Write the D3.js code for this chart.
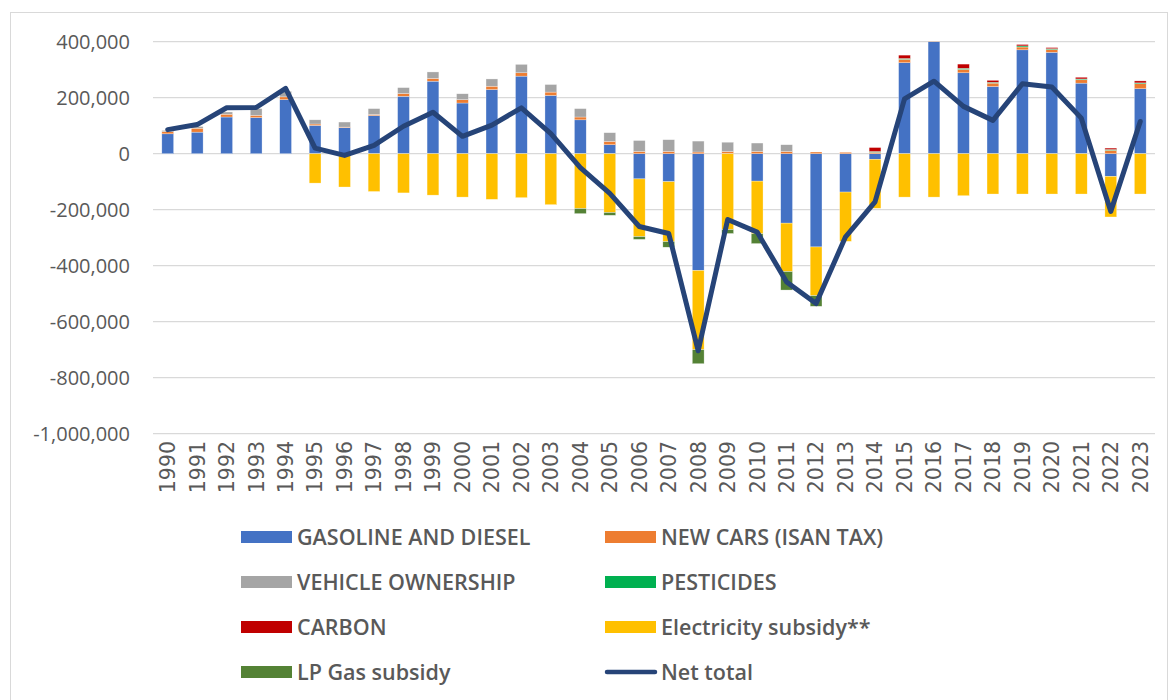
<!DOCTYPE html>
<html>
<head>
<meta charset="utf-8">
<script src="https://cdn.jsdelivr.net/npm/d3@7/dist/d3.min.js"></script>
<style>
  body { margin: 0; background: #fff; }
  .ylab { font-family: "Open Sans", sans-serif; font-size: 20px; fill: #595959; }
  .xlab { font-family: "DejaVu Sans", sans-serif; font-size: 20.5px; fill: #595959; }
  .leg { font-family: "Open Sans", sans-serif; font-size: 21.5px; font-weight: 600; fill: #595959; }
</style>
</head>
<body>
<svg width="1171" height="700"></svg>
<script>

// values
var years = d3.range(1990, 2024);

var gasoline = [71000, 77000, 131000, 129000, 193000, 101000, 93000, 136000, 205000, 259000,
  181000, 229000, 277000, 208000, 121000, 32000, -90000, -100000, -417000, 0,
  -98000, -248000, -333000, -137000, -20000, 325000, 400000, 289000, 240000, 371000,
  362000, 252000, -81000, 232000];

var newCars = [8000, 14000, 10000, 8000, 10000, 5000, 2000, 4000, 10000, 10000,
  12000, 12000, 12000, 12000, 10000, 12000, 8000, 8000, 6000, 8000,
  8000, 8000, 6000, 5000, 5000, 12000, 3000, 12000, 12000, 10000,
  10000, 12000, 12000, 18000];

var vehicleOwnership = [4000, 6000, 8000, 24000, 20000, 15000, 18000, 21000, 21000, 23000,
  21000, 26000, 30000, 27000, 30000, 31000, 39000, 42000, 39000, 33000,
  30000, 24000, 0, 0, 0, 0, 0, 0, 0, 0,
  0, 0, 0, 0];

var pesticides = [0, 0, 0, 0, 0, 0, 0, 0, 0, 0,
  0, 0, 0, 0, 0, 0, 0, 0, 0, 0,
  0, 0, 0, 0, 3000, 3000, 0, 4000, 3000, 4000,
  3000, 3000, 3000, 3000];

var carbon = [0, 0, 0, 0, 0, 0, 0, 0, 0, 0,
  0, 0, 0, 0, 0, 0, 0, 0, 0, 0,
  0, 0, 0, 0, 14000, 12000, 0, 15000, 7000, 5000,
  4000, 6000, 5000, 7000];

var electricity = [0, 0, 0, 0, 0, -105000, -119000, -135000, -140000, -148000,
  -155000, -163000, -157000, -182000, -196000, -210000, -206000, -214000, -283000, -271000,
  -188000, -173000, -174000, -176000, -175000, -155000, -155000, -150000, -144000, -144000,
  -144000, -144000, -145000, -144000];

var lpGas = [0, 0, 0, 0, 0, 0, 0, 0, 0, 0,
  0, 0, 0, 0, -18000, -10000, -10000, -20000, -50000, -14000,
  -35000, -66000, -38000, 0, 0, 0, 0, 0, 0, 0,
  0, 0, 0, 0];

var netTotal = [86000, 104000, 164000, 165000, 233000, 20000, -6000, 30000, 98000, 148000,
  62000, 102000, 164000, 72000, -50000, -142000, -260000, -285000, -704000, -235000,
  -280000, -458000, -535000, -297000, -172000, 196000, 259000, 169000, 119000, 250000,
  238000, 127000, -206000, 115000];

var yTicks = [400000, 200000, 0, -200000, -400000, -600000, -800000, -1000000];

var keys = ["GASOLINE AND DIESEL", "NEW CARS (ISAN TAX)", "VEHICLE OWNERSHIP", "PESTICIDES",
  "CARBON", "Electricity subsidy**", "LP Gas subsidy"];
var series = [gasoline, newCars, vehicleOwnership, pesticides, carbon, electricity, lpGas];
var colors = ["#4472C4", "#ED7D31", "#A5A5A5", "#00B050", "#C00000", "#FFC000", "#548235"];

var rows = years.map(function(yr, i) {
  var r = {year: yr};
  keys.forEach(function(k, j) { r[k] = series[j][i]; });
  return r;
});

var svg = d3.select("svg"),
    plot = {left: 153, right: 1155, top: 41.7, bottom: 433.7};

// outer frame of the chart
svg.append("rect")
    .attr("x", 10.5).attr("y", 12.5)
    .attr("width", 1157).attr("height", 700)
    .attr("fill", "none")
    .attr("stroke", "#D9D9D9");

var x = d3.scaleBand()
    .domain(years)
    .range([plot.left, plot.right])
    .paddingInner(0.6)
    .paddingOuter(0.3);

var y = d3.scaleLinear()
    .domain([-1000000, 400000])
    .range([plot.bottom, plot.top]);

var z = d3.scaleOrdinal().domain(keys).range(colors);

svg.append("defs").append("clipPath")
    .attr("id", "clip")
  .append("rect")
    .attr("x", plot.left)
    .attr("y", plot.top)
    .attr("width", plot.right - plot.left)
    .attr("height", plot.bottom - plot.top);

// gridlines
svg.append("g")
    .selectAll("line")
    .data(yTicks)
    .enter().append("line")
    .attr("x1", plot.left)
    .attr("x2", plot.right)
    .attr("y1", function(d) { return y(d); })
    .attr("y2", function(d) { return y(d); })
    .attr("stroke", "#D9D9D9")
    .attr("stroke-width", 1.3);

// y labels (plain hyphen for negatives, like Excel)
var fmt = d3.format(",");
var yAxis = d3.axisLeft(y)
    .tickValues(yTicks)
    .tickSize(0)
    .tickPadding(0)
    .tickFormat(function(d) { return fmt(d).replace("\u2212", "-"); });

svg.append("g")
    .attr("transform", "translate(130,0)")
    .call(yAxis)
    .call(function(g) { g.select(".domain").remove(); })
    .selectAll("text")
    .attr("class", "ylab")
    .attr("font-family", null)
    .attr("font-size", null)
    .attr("fill", null)
    .attr("dy", "0.35em");

// x labels, rotated
svg.append("g")
    .selectAll("text")
    .data(years)
    .enter().append("text")
    .attr("class", "xlab")
    .attr("transform", function(d) {
      return "translate(" + (x(d) + x.bandwidth() / 2) + ",441) rotate(-90)";
    })
    .attr("dy", "0.36em")
    .style("text-anchor", "end")
    .text(function(d) { return d; });

// stacked bars
var stack = d3.stack()
    .keys(keys)
    .offset(d3.stackOffsetDiverging);

var layers = svg.append("g")
    .attr("clip-path", "url(#clip)")
    .selectAll("g")
    .data(stack(rows))
    .enter().append("g")
    .attr("fill", function(d) { return z(d.key); });

layers.selectAll("rect")
    .data(function(d) { return d; })
    .enter().append("rect")
    .filter(function(d) { return d[1] !== d[0]; })
    .attr("x", function(d) { return x(d.data.year); })
    .attr("width", x.bandwidth())
    .attr("y", function(d) { return y(Math.max(d[0], d[1])); })
    .attr("height", function(d) { return Math.abs(y(d[0]) - y(d[1])); })
    .attr("stroke", "#fff")
    .attr("stroke-width", 0.5)
    .attr("stroke-opacity", 0.6);

// net total line
var line = d3.line()
    .x(function(d, i) { return x(years[i]) + x.bandwidth() / 2; })
    .y(function(d) { return y(d); });

svg.append("path")
    .datum(netTotal)
    .attr("fill", "none")
    .attr("stroke", "#264478")
    .attr("stroke-width", 5)
    .attr("stroke-linejoin", "round")
    .attr("stroke-linecap", "round")
    .attr("d", line);

// legend, two columns
var legItems = keys.concat(["Net total"]);
var legend = svg.append("g")
    .selectAll("g")
    .data(legItems)
    .enter().append("g")
    .attr("transform", function(d, i) {
      return "translate(" + (i % 2 === 0 ? 241 : 605) + "," + (537 + Math.floor(i / 2) * 45) + ")";
    });

legend.filter(function(d) { return d !== "Net total"; })
    .append("rect")
    .attr("x", 0)
    .attr("y", -6)
    .attr("width", 51)
    .attr("height", 12)
    .attr("fill", function(d) { return z(d); });

legend.filter(function(d) { return d === "Net total"; })
    .append("line")
    .attr("x1", 2).attr("x2", 50)
    .attr("y1", 0).attr("y2", 0)
    .attr("stroke", "#264478")
    .attr("stroke-width", 4.5)
    .attr("stroke-linecap", "round");

legend.append("text")
    .attr("class", "leg")
    .attr("x", 56)
    .attr("dy", "0.35em")
    .text(function(d) { return d; });

</script>
</body>
</html>
